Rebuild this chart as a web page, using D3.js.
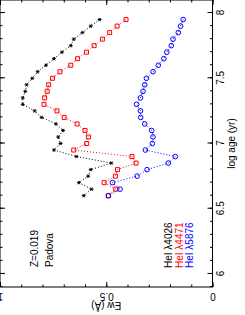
<!DOCTYPE html>
<html>
<head>
<meta charset="utf-8">
<script src="https://cdn.jsdelivr.net/npm/d3@7"></script>
<style>
  body { margin: 0; background: #fff; }
  text { font-family: "Liberation Sans", Arial, sans-serif; }
</style>
</head>
<body>
<div id="chart"></div>
<script>

// log age of each model point (top of the track first)
var logAge = [7.95, 7.90, 7.85, 7.80, 7.75, 7.70, 7.65, 7.60, 7.55, 7.50,
              7.45, 7.40, 7.35, 7.30, 7.25, 7.20, 7.15, 7.10, 7.05, 7.00,
              6.95, 6.90, 6.85, 6.80, 6.75, 6.70, 6.65, 6.60];

// equivalent widths (A)
var ew4026 = [0.531, 0.573, 0.612, 0.653, 0.667, 0.709, 0.746, 0.784, 0.823, 0.848,
              0.875, 0.881, 0.893, 0.893, 0.837, 0.804, 0.737, 0.703, 0.726, 0.715,
              0.746, 0.640, 0.476, 0.573, 0.585, 0.629, 0.569, 0.606];
var ew4471 = [0.407, 0.449, 0.484, 0.518, 0.557, 0.593, 0.635, 0.667, 0.718, 0.753,
              0.771, 0.778, 0.790, 0.793, 0.732, 0.698, 0.637, 0.600, 0.584, 0.592,
              0.653, 0.379, 0.360, 0.447, 0.457, 0.510, 0.455, 0.490];
var ew5876 = [0.138, 0.150, 0.161, 0.186, 0.194, 0.215, 0.229, 0.255, 0.280, 0.311,
              0.319, 0.327, 0.339, 0.357, 0.339, 0.338, 0.319, 0.286, 0.280, 0.283,
              0.316, 0.175, 0.208, 0.308, 0.355, 0.471, 0.435, 0.490];

var seriesNames = ["HeI \u03bb4026", "HeI \u03bb4471", "HeI \u03bb5876"];

var ageTicks = [6, 6.5, 7, 7.5, 8];
var ewTicks = [0, 0.5, 1];
var ewTickLabels = ["0", "0.5", "1"];

function init() {

    var w = 245;
    var h = 315;

    var svg = d3.select("#chart")
        .append("svg")
        .attr("width", w)
        .attr("height", h);

    // the whole figure is drawn turned by 90 degrees
    var g = svg.append("g")
        .attr("transform", "translate(0," + h + ") rotate(-90)");

    var x = d3.scaleLinear().domain([5.9, 8.1]).range([28, 315]);
    var y = d3.scaleLinear().domain([0, 1]).range([212.5, 0]);

    var ageMinor = x.ticks(22);
    var ewMinor = y.ticks(10);

    //minor ticks first
    g.append("g").attr("transform", "translate(0," + y(0) + ")")
        .call(d3.axisBottom(x).tickValues(ageMinor).tickSize(-2.5).tickFormat(""));
    g.append("g").attr("transform", "translate(0," + y(1) + ")")
        .call(d3.axisTop(x).tickValues(ageMinor).tickSize(-2.5).tickFormat(""));
    g.append("g").attr("transform", "translate(" + x(5.9) + ",0)")
        .call(d3.axisLeft(y).tickValues(ewMinor).tickSize(-2.5).tickFormat(""));
    g.append("g").attr("transform", "translate(" + x(8.1) + ",0)")
        .call(d3.axisRight(y).tickValues(ewMinor).tickSize(-2.5).tickFormat(""));

    // major ticks
    g.append("g").attr("transform", "translate(0," + y(0) + ")")
        .call(d3.axisBottom(x).tickValues(ageTicks).tickSize(-5).tickPadding(4)
            .tickFormat(d => String(d)));
    g.append("g").attr("transform", "translate(0," + y(1) + ")")
        .call(d3.axisTop(x).tickValues(ageTicks).tickSize(-5).tickFormat(""));
    var ewAxis = g.append("g").attr("transform", "translate(" + x(5.9) + ",0)")
        .call(d3.axisLeft(y).tickValues(ewTicks).tickSize(-5)
            .tickFormat((d, i) => ewTickLabels[i]));
    g.append("g").attr("transform", "translate(" + x(8.1) + ",0)")
        .call(d3.axisRight(y).tickValues(ewTicks).tickSize(-5).tickFormat(""));

    // y tick labels run along the axis
    ewAxis.selectAll("text")
        .attr("x", 0).attr("dy", null)
        .attr("text-anchor", "middle")
        .attr("transform", "translate(-5.5,0) rotate(-90)");

    g.selectAll(".domain").remove();
    g.selectAll(".tick line").attr("stroke", "#000");
    g.selectAll(".tick text").attr("font-size", "10px").attr("fill", "#000")
        .attr("font-family", "'Liberation Sans', Arial, sans-serif");

    g.append("rect")
        .attr("x", x(5.9)).attr("y", y(1))
        .attr("width", x(8.1) - x(5.9)).attr("height", y(0) - y(1))
        .attr("fill", "none").attr("stroke", "#000");

    // axis titles
    g.append("text")
        .attr("x", (x(5.9) + x(8.1)) / 2).attr("y", 235)
        .attr("text-anchor", "middle").attr("font-size", "10px")
        .text("log age (yr)");
    g.append("text")
        .attr("transform", "translate(13," + y(0.5) + ") rotate(-90)")
        .attr("text-anchor", "middle").attr("font-size", "10px")
        .text("Ew (\u00c5)");

    var series = [
        {name: seriesNames[0], values: ew4026, color: "#000", sym: d3.symbolAsterisk, size: 10, base: 172},
        {name: seriesNames[1], values: ew4471, color: "#f00", sym: d3.symbolSquare, size: 16, base: 182.5},
        {name: seriesNames[2], values: ew5876, color: "#00f", sym: d3.symbolCircle, size: 17, base: 193}
    ];

    var line = d3.line()
        .x((d, i) => x(logAge[i]))
        .y(d => y(d));

    series.forEach(function(s) {
        g.append("path")
            .datum(s.values)
            .attr("d", line)
            .attr("fill", "none")
            .attr("stroke", s.color)
            .attr("stroke-width", 1)
            .attr("stroke-dasharray", "1,2");

        g.selectAll(null)
            .data(s.values)
            .enter()
            .append("path")
            .attr("transform", (d, i) => "translate(" + x(logAge[i]) + "," + y(d) + ")")
            .attr("d", d3.symbol().type(s.sym).size(s.size))
            .attr("fill", "none")
            .attr("stroke", s.color)
            .attr("stroke-width", 1);

        g.append("text")
            .attr("x", 47).attr("y", s.base)
            .attr("font-size", "10px")
            .attr("fill", s.color)
            .text(s.name);
    });

    g.append("text").attr("x", 48).attr("y", 38)
        .attr("font-size", "10px").text("Z=0.019");
    g.append("text").attr("x", 48).attr("y", 53)
        .attr("font-size", "10px").text("Padova");
}

window.onload = init;
</script>
</body>
</html>
